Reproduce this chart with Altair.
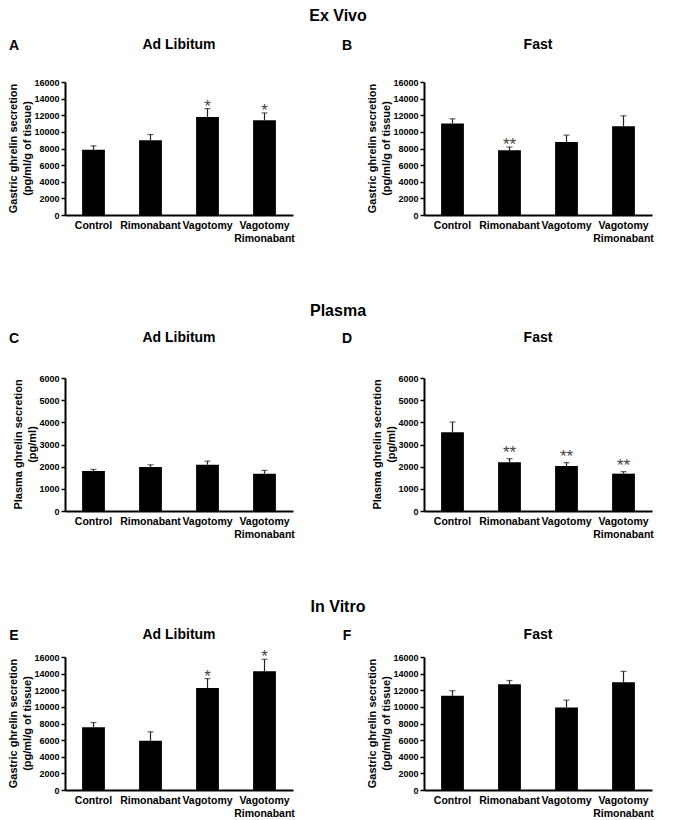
import altair as alt
import pandas as pd

FONT = "Liberation Sans"

groups = ["Control", "Rimonabant", "Vagotomy", "Vagotomy Rimonabant"]

# Panel A - Ex Vivo, Ad Libitum
a_mean = [7840, 9000, 11800, 11400]
a_sem = [480, 680, 1000, 880]
a_star = ["", "", "*", "*"]
# Panel B - Ex Vivo, Fast
b_mean = [11010, 7780, 8780, 10690]
b_sem = [560, 400, 830, 1240]
b_star = ["", "**", "", ""]
# Panel C - Plasma, Ad Libitum
c_mean = [1800, 1980, 2085, 1680]
c_sem = [75, 105, 165, 150]
c_star = ["", "", "", ""]
# Panel D - Plasma, Fast
d_mean = [3550, 2195, 2030, 1685]
d_sem = [465, 165, 150, 90]
d_star = ["", "**", "**", "**"]
# Panel E - In Vitro, Ad Libitum
e_mean = [7560, 5920, 12280, 14280]
e_sem = [560, 1080, 1120, 1440]
e_star = ["", "", "*", "*"]
# Panel F - In Vitro, Fast
f_mean = [11340, 12720, 9920, 12970]
f_sem = [610, 450, 890, 1300]
f_star = ["", "", "", ""]

gastric_title = ["Gastric ghrelin secretion", "(pg/ml/g of tissue)"]
plasma_title = ["Plasma ghrelin secretion", "(pg/ml)"]

W, H = 228, 133
LABEL_EXPR = "datum.value == 'Vagotomy Rimonabant' ? ['Vagotomy', 'Rimonabant'] : datum.label"


def text_layer(txt, x, y, size, angle=0, weight="bold"):
    return alt.Chart(pd.DataFrame({"t": [txt]})).mark_text(
        fontSize=size, fontWeight=weight, angle=angle, align="center",
        baseline="middle", font=FONT, color="black"
    ).encode(x=alt.value(x), y=alt.value(y), text="t:N")


def panel(mean, sem, star, ymax, ystep, ytitle, ytitle_x, letter, letter_x,
          sub, head_y, star_dy, row_title=None, row_y=None):
    df = pd.DataFrame({
        "group": groups,
        "mean": mean,
        "top": [m + s for m, s in zip(mean, sem)],
        "star": star,
    })
    xscale = alt.Scale(paddingInner=0.6, paddingOuter=0.3)
    xaxis = alt.Axis(labelExpr=LABEL_EXPR, labelAngle=0, ticks=False,
                     domainWidth=2, domainColor="black",
                     labelFontSize=10.5, labelFontWeight="bold",
                     labelFont=FONT, labelColor="black",
                     labelPadding=5, labelLineHeight=13,
                     labelOverlap=False, title=None)
    yscale = alt.Scale(domain=[0, ymax], nice=False)
    yaxis = alt.Axis(values=list(range(0, ymax + 1, ystep)), format="d",
                     grid=False, domainWidth=2, domainColor="black",
                     tickSize=4, tickWidth=1.5, tickColor="black",
                     labelFontSize=9, labelFontWeight="bold",
                     labelFont=FONT, labelColor="black", labelPadding=2,
                     labelOverlap=False, title=None)
    xs = alt.X("group:N", sort=groups, scale=xscale, axis=xaxis, title=None)

    def ys(field):
        return alt.Y(field, scale=yscale, axis=yaxis, title=None)

    base = alt.Chart(df)
    bars = base.mark_bar(color="black").encode(x=xs, y=ys("mean:Q"))
    rule = base.mark_rule(color="#222", strokeWidth=1.2).encode(
        x=xs, y=ys("mean:Q"), y2="top:Q")
    cap = base.mark_tick(color="#222", thickness=1.2, size=6).encode(
        x=xs, y=ys("top:Q"))
    stars = base.mark_text(fontSize=17, color="#444", baseline="alphabetic",
                           font=FONT, dy=star_dy).encode(
        x=xs, y=ys("top:Q"), text="star:N")
    layers = [bars, rule, cap, stars,
              text_layer(ytitle[0], ytitle_x[0], H / 2, 11, angle=270),
              text_layer(ytitle[1], ytitle_x[1], H / 2, 11, angle=270),
              text_layer(letter, letter_x, head_y + 1, 14),
              text_layer(sub, W / 2, head_y, 14)]
    if row_title:
        layers.append(text_layer(row_title, 273, row_y, 16))
    return alt.layer(*layers).properties(width=W, height=H)


A = panel(a_mean, a_sem, a_star, 16000, 2000, gastric_title, (-51, -37), "A", -51,
          "Ad Libitum", -37, 3, "Ex Vivo", -66)
B = panel(b_mean, b_sem, b_star, 16000, 2000, gastric_title, (-51, -37), "B", -77,
          "Fast", -37, 3)
C = panel(c_mean, c_sem, c_star, 6000, 1000, plasma_title, (-46, -32), "C", -51,
          "Ad Libitum", -40, 3, "Plasma", -67)
D = panel(d_mean, d_sem, d_star, 6000, 1000, plasma_title, (-46, -32), "D", -77,
          "Fast", -40, -1)
E = panel(e_mean, e_sem, e_star, 16000, 2000, gastric_title, (-51, -37), "E", -51,
          "Ad Libitum", -22, 3, "In Vitro", -50)
F = panel(f_mean, f_sem, f_star, 16000, 2000, gastric_title, (-51, -37), "F", -77,
          "Fast", -22, 3)

row1 = alt.hconcat(A, B, spacing=131, bounds="flush")
row2 = alt.hconcat(C, D, spacing=131, bounds="flush")
row3 = alt.hconcat(E, F, spacing=131, bounds="flush")

chart = alt.vconcat(row1, row2, row3, spacing=59).properties(padding=0).configure(
    font=FONT).configure_view(stroke=None)

chart.save("out.html", embed_options={"renderer": "svg", "actions": False})
